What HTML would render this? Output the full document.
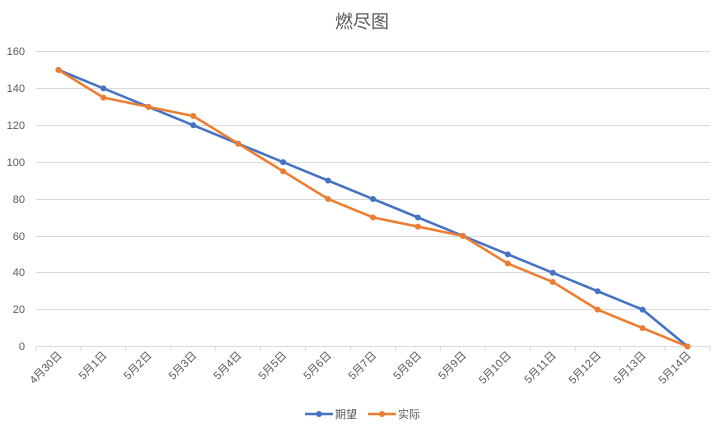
<!DOCTYPE html>
<html><head><meta charset="utf-8"><style>
body{margin:0;background:#fff;}
text{font-family:"Liberation Sans","Noto Sans CJK SC",sans-serif;fill:#595959;}
</style></head><body>
<svg width="725" height="434" viewBox="0 0 725 434" xmlns="http://www.w3.org/2000/svg">
<rect width="725" height="434" fill="#fff"/>
<text x="362" y="28" font-size="18" text-anchor="middle">燃尽图</text>
<g stroke="#d9d9d9" stroke-width="1">
<line x1="36" y1="51.5" x2="710" y2="51.5"/>
<line x1="36" y1="88.5" x2="710" y2="88.5"/>
<line x1="36" y1="125.5" x2="710" y2="125.5"/>
<line x1="36" y1="162.5" x2="710" y2="162.5"/>
<line x1="36" y1="199.5" x2="710" y2="199.5"/>
<line x1="36" y1="236.5" x2="710" y2="236.5"/>
<line x1="36" y1="272.5" x2="710" y2="272.5"/>
<line x1="36" y1="309.5" x2="710" y2="309.5"/>
<line x1="36" y1="346.5" x2="710" y2="346.5"/>
</g>
<g font-size="11" text-anchor="end">
<text x="25" y="55">160</text><text x="25" y="92">140</text><text x="25" y="129">120</text>
<text x="25" y="166">100</text><text x="25" y="203">80</text><text x="25" y="240">60</text>
<text x="25" y="276">40</text><text x="25" y="313">20</text><text x="25" y="350">0</text>
</g>
<g id="ticks" stroke="#d9d9d9"></g>
<g id="labels" font-size="11"></g>
<polyline id="exp" fill="none" stroke="#4472c4" stroke-width="2.5"/>
<polyline id="act" fill="none" stroke="#ed7d31" stroke-width="2.5"/>
<g id="dots"></g>
<line x1="305" y1="414" x2="333" y2="414" stroke="#4472c4" stroke-width="2.5"/>
<circle cx="319" cy="414" r="3" fill="#4472c4"/>
<text x="335" y="418" font-size="11">期望</text>
<line x1="368" y1="414" x2="396" y2="414" stroke="#ed7d31" stroke-width="2.5"/>
<circle cx="382" cy="414" r="3" fill="#ed7d31"/>
<text x="398" y="418" font-size="11">实际</text>
</svg>
<script>
var ns="http://www.w3.org/2000/svg";
var e=[150,140,130,120,110,100,90,80,70,60,50,40,30,20,0];
var a=[150,135,130,125,110,95,80,70,65,60,45,35,20,10,0];
var labs=["4月30日","5月1日","5月2日","5月3日","5月4日","5月5日","5月6日","5月7日","5月8日","5月9日","5月10日","5月11日","5月12日","5月13日","5月14日"];
function X(i){return 58.5+i*44.93;}
function Y(v){return 346.5-v*295/160;}
var t=document.getElementById("ticks"),l=document.getElementById("labels"),d=document.getElementById("dots");
for(var i=0;i<=15;i++){var ln=document.createElementNS(ns,"line");var x=36+i*44.93;ln.setAttribute("x1",x);ln.setAttribute("x2",x);ln.setAttribute("y1",346.5);ln.setAttribute("y2",351);t.appendChild(ln);}
labs.forEach(function(s,i){var tx=document.createElementNS(ns,"text");var x=X(i)+4,y=356;tx.setAttribute("x",x);tx.setAttribute("y",y);tx.setAttribute("text-anchor","end");tx.setAttribute("transform","rotate(-45 "+x+" "+y+")");tx.textContent=s;l.appendChild(tx);});
document.getElementById("exp").setAttribute("points",e.map(function(v,i){return X(i)+","+Y(v)}).join(" "));
document.getElementById("act").setAttribute("points",a.map(function(v,i){return X(i)+","+Y(v)}).join(" "));
[[e,"#4472c4"],[a,"#ed7d31"]].forEach(function(p){p[0].forEach(function(v,i){var c=document.createElementNS(ns,"circle");c.setAttribute("cx",X(i));c.setAttribute("cy",Y(v));c.setAttribute("r",3);c.setAttribute("fill",p[1]);d.appendChild(c);});});
</script>
</body></html>
